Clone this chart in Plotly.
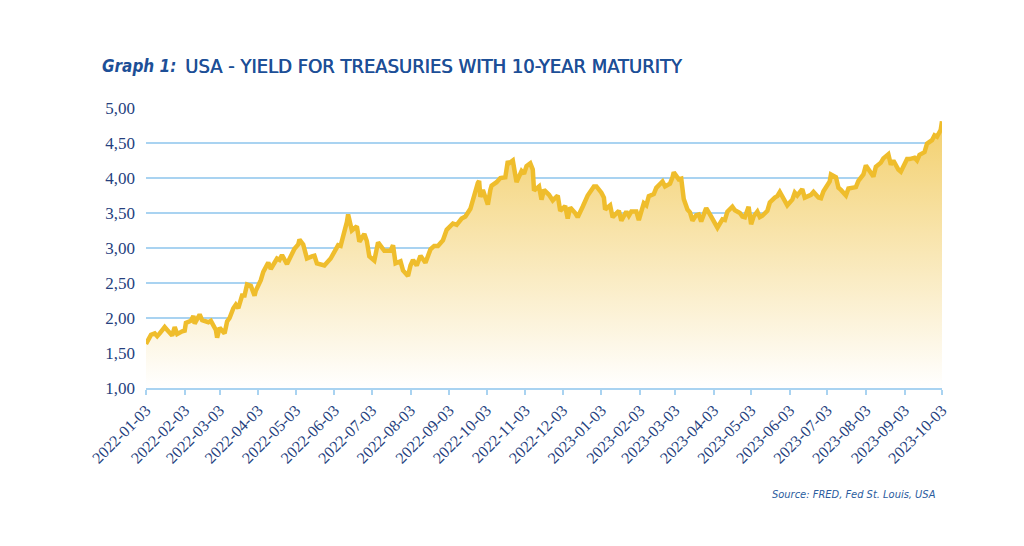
import plotly.graph_objects as go

dates = [
    "2022-01-03","2022-01-05","2022-01-07","2022-01-10","2022-01-12","2022-01-14","2022-01-18","2022-01-20","2022-01-24","2022-01-26","2022-01-28",
    "2022-02-01","2022-02-03","2022-02-04","2022-02-08","2022-02-10","2022-02-11","2022-02-15","2022-02-17","2022-02-22","2022-02-24","2022-02-28",
    "2022-03-01","2022-03-03","2022-03-07","2022-03-09","2022-03-11","2022-03-14","2022-03-16","2022-03-18","2022-03-21","2022-03-23","2022-03-25","2022-03-28","2022-03-31",
    "2022-04-01","2022-04-05","2022-04-07","2022-04-11","2022-04-13","2022-04-18","2022-04-20","2022-04-22","2022-04-26","2022-04-28",
    "2022-05-02","2022-05-05","2022-05-06","2022-05-09","2022-05-11","2022-05-12","2022-05-16","2022-05-18","2022-05-20","2022-05-24","2022-05-26","2022-05-31",
    "2022-06-02","2022-06-06","2022-06-08","2022-06-10","2022-06-13","2022-06-14","2022-06-16","2022-06-17","2022-06-21","2022-06-23","2022-06-27","2022-06-29",
    "2022-07-01","2022-07-05","2022-07-08","2022-07-11","2022-07-13","2022-07-18","2022-07-20","2022-07-22","2022-07-26","2022-07-28",
    "2022-08-01","2022-08-03","2022-08-05","2022-08-08","2022-08-11","2022-08-15","2022-08-17","2022-08-19","2022-08-22","2022-08-25","2022-08-29",
    "2022-09-01","2022-09-06","2022-09-09","2022-09-13","2022-09-16","2022-09-20","2022-09-22","2022-09-26","2022-09-27","2022-09-28","2022-09-30",
    "2022-10-04","2022-10-06","2022-10-07","2022-10-11","2022-10-14","2022-10-18","2022-10-20","2022-10-21","2022-10-24","2022-10-26","2022-10-27","2022-10-31",
    "2022-11-02","2022-11-04","2022-11-07","2022-11-09","2022-11-10","2022-11-14","2022-11-16","2022-11-18","2022-11-22","2022-11-25","2022-11-29",
    "2022-12-01","2022-12-05","2022-12-07","2022-12-09","2022-12-13","2022-12-15","2022-12-19","2022-12-21","2022-12-23","2022-12-28","2022-12-30",
    "2023-01-03","2023-01-05","2023-01-06","2023-01-10","2023-01-12","2023-01-17","2023-01-19","2023-01-23","2023-01-25","2023-01-27","2023-01-31",
    "2023-02-02","2023-02-06","2023-02-08","2023-02-10","2023-02-14","2023-02-16","2023-02-21","2023-02-23","2023-02-27",
    "2023-03-01","2023-03-02","2023-03-06","2023-03-08","2023-03-10","2023-03-13","2023-03-15","2023-03-17","2023-03-20","2023-03-22","2023-03-24","2023-03-28","2023-03-31",
    "2023-04-04","2023-04-06","2023-04-10","2023-04-12","2023-04-14","2023-04-18","2023-04-20","2023-04-24","2023-04-26","2023-04-28",
    "2023-05-01","2023-05-03","2023-05-05","2023-05-08","2023-05-10","2023-05-12","2023-05-16","2023-05-18","2023-05-22","2023-05-24","2023-05-26","2023-05-30",
    "2023-06-01","2023-06-05","2023-06-07","2023-06-09","2023-06-13","2023-06-15","2023-06-20","2023-06-22","2023-06-26","2023-06-28","2023-06-30",
    "2023-07-05","2023-07-06","2023-07-10","2023-07-12","2023-07-14","2023-07-18","2023-07-20","2023-07-24","2023-07-26","2023-07-28",
    "2023-08-01","2023-08-03","2023-08-07","2023-08-09","2023-08-11","2023-08-15","2023-08-17","2023-08-21","2023-08-23","2023-08-25","2023-08-29","2023-08-31",
    "2023-09-05","2023-09-07","2023-09-11","2023-09-13","2023-09-15","2023-09-19","2023-09-21","2023-09-25","2023-09-27","2023-09-29",
    "2023-10-02","2023-10-03",
]

yields = [
    1.63,1.71,1.76,1.78,1.74,1.78,1.87,1.83,1.75,1.87,1.77,
    1.81,1.82,1.93,1.96,2.03,1.92,2.05,1.97,1.94,1.96,1.83,
    1.72,1.86,1.78,1.95,2.00,2.14,2.19,2.14,2.32,2.32,2.48,2.46,2.32,
    2.39,2.54,2.66,2.79,2.70,2.85,2.83,2.90,2.77,2.85,
    2.99,3.05,3.12,3.05,2.91,2.85,2.88,2.89,2.78,2.76,2.75,2.85,
    2.92,3.04,3.03,3.15,3.37,3.48,3.28,3.25,3.31,3.09,3.20,3.10,
    2.88,2.82,3.08,2.99,2.96,2.96,3.04,2.78,2.81,2.68,
    2.60,2.75,2.83,2.75,2.89,2.79,2.90,2.98,3.03,3.03,3.11,
    3.26,3.35,3.33,3.42,3.45,3.56,3.70,3.93,3.96,3.73,3.83,
    3.62,3.83,3.89,3.94,4.00,4.01,4.24,4.21,4.25,4.04,3.94,4.10,
    4.06,4.17,4.21,4.12,3.82,3.88,3.69,3.83,3.76,3.68,3.75,
    3.53,3.60,3.42,3.58,3.50,3.44,3.59,3.68,3.75,3.88,3.88,
    3.79,3.72,3.55,3.61,3.44,3.53,3.39,3.52,3.46,3.52,3.52,
    3.40,3.64,3.61,3.74,3.77,3.86,3.95,3.88,3.92,
    4.01,4.08,3.98,3.99,3.70,3.55,3.51,3.39,3.47,3.48,3.38,3.57,3.48,
    3.34,3.29,3.41,3.40,3.52,3.59,3.54,3.50,3.45,3.44,
    3.59,3.34,3.45,3.52,3.44,3.46,3.53,3.65,3.72,3.74,3.80,3.69,
    3.61,3.69,3.79,3.75,3.84,3.72,3.76,3.80,3.72,3.71,3.81,
    3.95,4.05,4.01,3.86,3.83,3.75,3.85,3.87,3.87,3.96,
    4.05,4.18,4.09,4.02,4.16,4.22,4.28,4.34,4.19,4.25,4.12,4.09,
    4.27,4.27,4.29,4.25,4.33,4.37,4.49,4.54,4.61,4.59,
    4.69,4.81,
]

x_tick_vals = [
    "2022-01-03","2022-02-03","2022-03-03","2022-04-03","2022-05-03","2022-06-03","2022-07-03",
    "2022-08-03","2022-09-03","2022-10-03","2022-11-03","2022-12-03","2023-01-03","2023-02-03",
    "2023-03-03","2023-04-03","2023-05-03","2023-06-03","2023-07-03","2023-08-03","2023-09-03","2023-10-03",
]
y_tick_vals = [1.0, 1.5, 2.0, 2.5, 3.0, 3.5, 4.0, 4.5, 5.0]
y_tick_text = ["1,00", "1,50", "2,00", "2,50", "3,00", "3,50", "4,00", "4,50", "5,00"]

title_label = "Graph 1:"
title_text = "USA - YIELD FOR TREASURIES WITH 10-YEAR MATURITY"
source_text = "Source: FRED, Fed St. Louis, USA"

NAVY = "#263f7e"
TITLE_BLUE = "#1d4f97"
GRID = "#a9d3f1"
LINE = "#efbd2c"
SANS = "Liberation Sans Narrow, DejaVu Sans Condensed, sans-serif"
SERIF = "Liberation Serif, DejaVu Serif, serif"

# page body has an 8px margin, so plot area lands at x 146..942, y 108..388
L, R, T, B = 138, 90, 100, 166
PW = 1024 - L - R

fig = go.Figure()
fig.add_trace(go.Scatter(
    x=dates, y=yields, mode="lines",
    line=dict(color=LINE, width=4.5, shape="linear"),
    fill="tozeroy",
    fillgradient=dict(type="vertical", start=1.0, stop=4.8,
                      colorscale=[[0, "rgb(255,255,255)"], [1, "rgb(243,208,110)"]]),
    hoverinfo="x+y",
))

fig.update_layout(
    width=1024, height=546,
    paper_bgcolor="white", plot_bgcolor="white",
    margin=dict(l=L, r=R, t=T, b=B),
    showlegend=False,
    xaxis=dict(
        type="date", range=["2022-01-03", "2023-10-03"],
        tickvals=x_tick_vals, ticktext=x_tick_vals,
        tickangle=-45, ticks="outside", ticklen=5, tickcolor=GRID, tickwidth=1.5,
        showgrid=False, showline=True, linecolor=GRID, linewidth=1.5,
        tickfont=dict(family=SERIF, size=16, color=NAVY),
        zeroline=False,
    ),
    yaxis=dict(
        range=[1.0, 5.0], tickvals=y_tick_vals, ticktext=y_tick_text,
        showgrid=True, gridcolor=GRID, gridwidth=1.5, zeroline=False,
        showline=False, ticks="", ticklabelstandoff=10,
        tickfont=dict(family=SERIF, size=17, color=NAVY),
    ),
)

fig.add_annotation(xref="paper", yref="paper", x=(100 - 146) / PW, y=1.0, yshift=42,
                   xanchor="left", yanchor="middle", showarrow=False,
                   text="<b><i>" + title_label + "</i></b>",
                   font=dict(family=SANS, size=17, color=TITLE_BLUE))
fig.add_annotation(xref="paper", yref="paper", x=(183 - 146) / PW, y=1.0, yshift=42,
                   xanchor="left", yanchor="middle", showarrow=False,
                   text=title_text,
                   font=dict(family=SANS, size=20, color=TITLE_BLUE,
                             shadow="0.6px 0px 0px #1d4f97"))
fig.add_annotation(xref="paper", yref="paper", x=(938 - 146) / PW, y=0, yshift=-106,
                   xanchor="right", yanchor="middle", showarrow=False,
                   text="<i>" + source_text + "</i>",
                   font=dict(family=SANS, size=11, color="#2b5c9e"))

fig.write_html("out.html")
